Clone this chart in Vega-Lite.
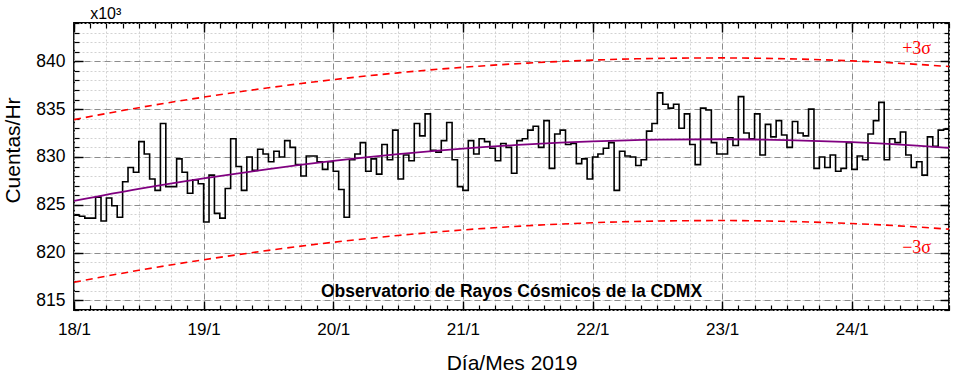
{
  "$schema": "https://vega.github.io/schema/vega-lite/v6.json",
  "autosize": "none",
  "width": 875,
  "height": 287,
  "padding": {"left": 74, "top": 23, "right": 9, "bottom": 69},
  "background": "white",
  "config": {
    "font": "Liberation Sans",
    "view": {"stroke": "black", "strokeWidth": 1.8},
    "axis": {"labelColor": "black", "titleColor": "black", "titleFontWeight": "normal", "labelFont": "Liberation Sans", "titleFont": "Liberation Sans"}
  },
  "datasets": {
    "cuentas": [
      {"fecha": "2019-01-18T00:00Z", "cuentas": 823.9}, {"fecha": "2019-01-18T01:00Z", "cuentas": 823.8}, {"fecha": "2019-01-18T02:00Z", "cuentas": 823.6}, {"fecha": "2019-01-18T03:00Z", "cuentas": 823.6},
      {"fecha": "2019-01-18T04:00Z", "cuentas": 825.8}, {"fecha": "2019-01-18T05:00Z", "cuentas": 823.3}, {"fecha": "2019-01-18T06:00Z", "cuentas": 825.7}, {"fecha": "2019-01-18T07:00Z", "cuentas": 824.9},
      {"fecha": "2019-01-18T08:00Z", "cuentas": 823.7}, {"fecha": "2019-01-18T09:00Z", "cuentas": 827.4}, {"fecha": "2019-01-18T10:00Z", "cuentas": 828.9}, {"fecha": "2019-01-18T11:00Z", "cuentas": 828.4},
      {"fecha": "2019-01-18T12:00Z", "cuentas": 831.6}, {"fecha": "2019-01-18T13:00Z", "cuentas": 830.3}, {"fecha": "2019-01-18T14:00Z", "cuentas": 827.7}, {"fecha": "2019-01-18T15:00Z", "cuentas": 826.5},
      {"fecha": "2019-01-18T16:00Z", "cuentas": 833.5}, {"fecha": "2019-01-18T17:00Z", "cuentas": 826.9}, {"fecha": "2019-01-18T18:00Z", "cuentas": 826.9}, {"fecha": "2019-01-18T19:00Z", "cuentas": 829.8},
      {"fecha": "2019-01-18T20:00Z", "cuentas": 828.4}, {"fecha": "2019-01-18T21:00Z", "cuentas": 826.2}, {"fecha": "2019-01-18T22:00Z", "cuentas": 827.6}, {"fecha": "2019-01-18T23:00Z", "cuentas": 827.2},
      {"fecha": "2019-01-19T00:00Z", "cuentas": 823.2}, {"fecha": "2019-01-19T01:00Z", "cuentas": 828.1}, {"fecha": "2019-01-19T02:00Z", "cuentas": 824.1}, {"fecha": "2019-01-19T03:00Z", "cuentas": 823.6},
      {"fecha": "2019-01-19T04:00Z", "cuentas": 826.7}, {"fecha": "2019-01-19T05:00Z", "cuentas": 831.9}, {"fecha": "2019-01-19T06:00Z", "cuentas": 829.0}, {"fecha": "2019-01-19T07:00Z", "cuentas": 826.5},
      {"fecha": "2019-01-19T08:00Z", "cuentas": 830.0}, {"fecha": "2019-01-19T09:00Z", "cuentas": 828.6}, {"fecha": "2019-01-19T10:00Z", "cuentas": 830.8}, {"fecha": "2019-01-19T11:00Z", "cuentas": 830.3},
      {"fecha": "2019-01-19T12:00Z", "cuentas": 829.5}, {"fecha": "2019-01-19T13:00Z", "cuentas": 830.6}, {"fecha": "2019-01-19T14:00Z", "cuentas": 830.0}, {"fecha": "2019-01-19T15:00Z", "cuentas": 831.7},
      {"fecha": "2019-01-19T16:00Z", "cuentas": 831.0}, {"fecha": "2019-01-19T17:00Z", "cuentas": 829.2}, {"fecha": "2019-01-19T18:00Z", "cuentas": 828.0}, {"fecha": "2019-01-19T19:00Z", "cuentas": 830.1},
      {"fecha": "2019-01-19T20:00Z", "cuentas": 830.1}, {"fecha": "2019-01-19T21:00Z", "cuentas": 829.5}, {"fecha": "2019-01-19T22:00Z", "cuentas": 828.7}, {"fecha": "2019-01-19T23:00Z", "cuentas": 829.5},
      {"fecha": "2019-01-20T00:00Z", "cuentas": 828.5}, {"fecha": "2019-01-20T01:00Z", "cuentas": 826.6}, {"fecha": "2019-01-20T02:00Z", "cuentas": 823.7}, {"fecha": "2019-01-20T03:00Z", "cuentas": 829.7},
      {"fecha": "2019-01-20T04:00Z", "cuentas": 830.3}, {"fecha": "2019-01-20T05:00Z", "cuentas": 831.5}, {"fecha": "2019-01-20T06:00Z", "cuentas": 828.5}, {"fecha": "2019-01-20T07:00Z", "cuentas": 829.8},
      {"fecha": "2019-01-20T08:00Z", "cuentas": 828.2}, {"fecha": "2019-01-20T09:00Z", "cuentas": 831.3}, {"fecha": "2019-01-20T10:00Z", "cuentas": 829.7}, {"fecha": "2019-01-20T11:00Z", "cuentas": 832.8},
      {"fecha": "2019-01-20T12:00Z", "cuentas": 827.7}, {"fecha": "2019-01-20T13:00Z", "cuentas": 830.2}, {"fecha": "2019-01-20T14:00Z", "cuentas": 829.6}, {"fecha": "2019-01-20T15:00Z", "cuentas": 833.5},
      {"fecha": "2019-01-20T16:00Z", "cuentas": 832.2}, {"fecha": "2019-01-20T17:00Z", "cuentas": 834.5}, {"fecha": "2019-01-20T18:00Z", "cuentas": 830.7}, {"fecha": "2019-01-20T19:00Z", "cuentas": 830.5},
      {"fecha": "2019-01-20T20:00Z", "cuentas": 831.7}, {"fecha": "2019-01-20T21:00Z", "cuentas": 833.6}, {"fecha": "2019-01-20T22:00Z", "cuentas": 829.7}, {"fecha": "2019-01-20T23:00Z", "cuentas": 826.9},
      {"fecha": "2019-01-21T00:00Z", "cuentas": 826.5}, {"fecha": "2019-01-21T01:00Z", "cuentas": 831.7}, {"fecha": "2019-01-21T02:00Z", "cuentas": 830.3}, {"fecha": "2019-01-21T03:00Z", "cuentas": 831.9},
      {"fecha": "2019-01-21T04:00Z", "cuentas": 831.6}, {"fecha": "2019-01-21T05:00Z", "cuentas": 830.9}, {"fecha": "2019-01-21T06:00Z", "cuentas": 829.6}, {"fecha": "2019-01-21T07:00Z", "cuentas": 831.4},
      {"fecha": "2019-01-21T08:00Z", "cuentas": 831.0}, {"fecha": "2019-01-21T09:00Z", "cuentas": 828.3}, {"fecha": "2019-01-21T10:00Z", "cuentas": 831.7}, {"fecha": "2019-01-21T11:00Z", "cuentas": 831.9},
      {"fecha": "2019-01-21T12:00Z", "cuentas": 832.8}, {"fecha": "2019-01-21T13:00Z", "cuentas": 833.2}, {"fecha": "2019-01-21T14:00Z", "cuentas": 831.0}, {"fecha": "2019-01-21T15:00Z", "cuentas": 833.8},
      {"fecha": "2019-01-21T16:00Z", "cuentas": 828.8}, {"fecha": "2019-01-21T17:00Z", "cuentas": 832.4}, {"fecha": "2019-01-21T18:00Z", "cuentas": 832.8}, {"fecha": "2019-01-21T19:00Z", "cuentas": 831.3},
      {"fecha": "2019-01-21T20:00Z", "cuentas": 831.4}, {"fecha": "2019-01-21T21:00Z", "cuentas": 829.3}, {"fecha": "2019-01-21T22:00Z", "cuentas": 829.8}, {"fecha": "2019-01-21T23:00Z", "cuentas": 827.7},
      {"fecha": "2019-01-22T00:00Z", "cuentas": 830.0}, {"fecha": "2019-01-22T01:00Z", "cuentas": 830.3}, {"fecha": "2019-01-22T02:00Z", "cuentas": 830.9}, {"fecha": "2019-01-22T03:00Z", "cuentas": 831.5},
      {"fecha": "2019-01-22T04:00Z", "cuentas": 826.5}, {"fecha": "2019-01-22T05:00Z", "cuentas": 830.6}, {"fecha": "2019-01-22T06:00Z", "cuentas": 830.1}, {"fecha": "2019-01-22T07:00Z", "cuentas": 830.0},
      {"fecha": "2019-01-22T08:00Z", "cuentas": 829.1}, {"fecha": "2019-01-22T09:00Z", "cuentas": 829.7}, {"fecha": "2019-01-22T10:00Z", "cuentas": 832.7}, {"fecha": "2019-01-22T11:00Z", "cuentas": 833.5},
      {"fecha": "2019-01-22T12:00Z", "cuentas": 836.7}, {"fecha": "2019-01-22T13:00Z", "cuentas": 835.5}, {"fecha": "2019-01-22T14:00Z", "cuentas": 835.1}, {"fecha": "2019-01-22T15:00Z", "cuentas": 835.5},
      {"fecha": "2019-01-22T16:00Z", "cuentas": 833.0}, {"fecha": "2019-01-22T17:00Z", "cuentas": 834.5}, {"fecha": "2019-01-22T18:00Z", "cuentas": 831.3}, {"fecha": "2019-01-22T19:00Z", "cuentas": 829.2},
      {"fecha": "2019-01-22T20:00Z", "cuentas": 835.1}, {"fecha": "2019-01-22T21:00Z", "cuentas": 834.9}, {"fecha": "2019-01-22T22:00Z", "cuentas": 831.5}, {"fecha": "2019-01-22T23:00Z", "cuentas": 830.3},
      {"fecha": "2019-01-23T00:00Z", "cuentas": 830.3}, {"fecha": "2019-01-23T01:00Z", "cuentas": 832.0}, {"fecha": "2019-01-23T02:00Z", "cuentas": 831.2}, {"fecha": "2019-01-23T03:00Z", "cuentas": 836.3},
      {"fecha": "2019-01-23T04:00Z", "cuentas": 832.5}, {"fecha": "2019-01-23T05:00Z", "cuentas": 831.9}, {"fecha": "2019-01-23T06:00Z", "cuentas": 834.5}, {"fecha": "2019-01-23T07:00Z", "cuentas": 830.2},
      {"fecha": "2019-01-23T08:00Z", "cuentas": 833.4}, {"fecha": "2019-01-23T09:00Z", "cuentas": 832.1}, {"fecha": "2019-01-23T10:00Z", "cuentas": 833.8}, {"fecha": "2019-01-23T11:00Z", "cuentas": 832.3},
      {"fecha": "2019-01-23T12:00Z", "cuentas": 831.0}, {"fecha": "2019-01-23T13:00Z", "cuentas": 833.7}, {"fecha": "2019-01-23T14:00Z", "cuentas": 832.5}, {"fecha": "2019-01-23T15:00Z", "cuentas": 832.2},
      {"fecha": "2019-01-23T16:00Z", "cuentas": 835.0}, {"fecha": "2019-01-23T17:00Z", "cuentas": 828.8}, {"fecha": "2019-01-23T18:00Z", "cuentas": 830.0}, {"fecha": "2019-01-23T19:00Z", "cuentas": 828.9},
      {"fecha": "2019-01-23T20:00Z", "cuentas": 830.2}, {"fecha": "2019-01-23T21:00Z", "cuentas": 828.5}, {"fecha": "2019-01-23T22:00Z", "cuentas": 828.8}, {"fecha": "2019-01-23T23:00Z", "cuentas": 831.5},
      {"fecha": "2019-01-24T00:00Z", "cuentas": 828.7}, {"fecha": "2019-01-24T01:00Z", "cuentas": 830.1}, {"fecha": "2019-01-24T02:00Z", "cuentas": 829.7}, {"fecha": "2019-01-24T03:00Z", "cuentas": 832.4},
      {"fecha": "2019-01-24T04:00Z", "cuentas": 833.8}, {"fecha": "2019-01-24T05:00Z", "cuentas": 835.7}, {"fecha": "2019-01-24T06:00Z", "cuentas": 829.7}, {"fecha": "2019-01-24T07:00Z", "cuentas": 831.9},
      {"fecha": "2019-01-24T08:00Z", "cuentas": 831.5}, {"fecha": "2019-01-24T09:00Z", "cuentas": 832.6}, {"fecha": "2019-01-24T10:00Z", "cuentas": 830.2}, {"fecha": "2019-01-24T11:00Z", "cuentas": 828.9},
      {"fecha": "2019-01-24T12:00Z", "cuentas": 829.5}, {"fecha": "2019-01-24T13:00Z", "cuentas": 828.1}, {"fecha": "2019-01-24T14:00Z", "cuentas": 832.1}, {"fecha": "2019-01-24T15:00Z", "cuentas": 831.1},
      {"fecha": "2019-01-24T16:00Z", "cuentas": 832.8}, {"fecha": "2019-01-24T17:00Z", "cuentas": 832.9}, {"fecha": "2019-01-24T18:00Z", "cuentas": 832.9}
    ],
    "ajuste": [
      {"fecha": "2019-01-18T00:00Z", "ajuste": 825.4, "mas3s": 833.9, "menos3s": 816.9},
      {"fecha": "2019-01-18T12:00Z", "ajuste": 826.65, "mas3s": 835.15, "menos3s": 818.15},
      {"fecha": "2019-01-19T00:00Z", "ajuste": 827.75, "mas3s": 836.25, "menos3s": 819.25},
      {"fecha": "2019-01-19T12:00Z", "ajuste": 828.73, "mas3s": 837.23, "menos3s": 820.23},
      {"fecha": "2019-01-20T00:00Z", "ajuste": 829.58, "mas3s": 838.08, "menos3s": 821.08},
      {"fecha": "2019-01-20T12:00Z", "ajuste": 830.29, "mas3s": 838.79, "menos3s": 821.79},
      {"fecha": "2019-01-21T00:00Z", "ajuste": 830.87, "mas3s": 839.37, "menos3s": 822.37},
      {"fecha": "2019-01-21T12:00Z", "ajuste": 831.31, "mas3s": 839.81, "menos3s": 822.81},
      {"fecha": "2019-01-22T00:00Z", "ajuste": 831.62, "mas3s": 840.12, "menos3s": 823.12},
      {"fecha": "2019-01-22T12:00Z", "ajuste": 831.8, "mas3s": 840.3, "menos3s": 823.3},
      {"fecha": "2019-01-23T00:00Z", "ajuste": 831.85, "mas3s": 840.35, "menos3s": 823.35},
      {"fecha": "2019-01-23T12:00Z", "ajuste": 831.76, "mas3s": 840.26, "menos3s": 823.26},
      {"fecha": "2019-01-24T00:00Z", "ajuste": 831.54, "mas3s": 840.04, "menos3s": 823.04},
      {"fecha": "2019-01-24T12:00Z", "ajuste": 831.18, "mas3s": 839.68, "menos3s": 822.68},
      {"fecha": "2019-01-24T18:00Z", "ajuste": 830.95, "mas3s": 839.45, "menos3s": 822.45}
    ],
    "etiquetas": [
      {"fecha": "2019-01-24T12:00Z", "valor": 841.3, "texto": "+3σ"},
      {"fecha": "2019-01-24T12:00Z", "valor": 820.45, "texto": "−3σ"}
    ],
    "rotulo": [
      {"fecha": "2019-01-21T09:00Z", "valor": 815.85, "texto": "Observatorio de Rayos Cósmicos de la CDMX"}
    ],
    "escala": [
      {"fecha": "2019-01-18T03:00Z", "valor": 844.4, "texto": "x10³"}
    ]
  },
  "resolve": {"axis": {"x": "independent", "y": "independent"}},
  "layer": [
    {
      "data": {"name": "cuentas"},
      "mark": {"type": "line", "interpolate": "step-after", "color": "black", "strokeWidth": 1.6},
      "encoding": {
        "x": {"field": "fecha", "type": "temporal",
          "scale": {"type": "utc", "nice": false, "domain": [{"year": 2019, "month": 1, "date": 18, "utc": true}, {"year": 2019, "month": 1, "date": 24, "hours": 18, "utc": true}]},
          "axis": {"orient": "bottom", "grid": true, "gridColor": "#d2d2d2", "gridDash": [2, 2], "gridWidth": 1, "ticks": false, "labels": false, "domain": false, "title": null,
            "values": [1547769600000, 1547791200000, 1547812800000, 1547834400000, 1547856000000, 1547877600000, 1547899200000, 1547920800000, 1547942400000, 1547964000000, 1547985600000, 1548007200000, 1548028800000, 1548050400000, 1548072000000, 1548093600000, 1548115200000, 1548136800000, 1548158400000, 1548180000000, 1548201600000, 1548223200000, 1548244800000, 1548266400000, 1548288000000, 1548309600000, 1548331200000, 1548352800000]}},
        "y": {"field": "cuentas", "type": "quantitative",
          "scale": {"domain": [814, 844], "nice": false, "zero": false},
          "axis": {"orient": "left", "grid": true, "gridColor": "#d2d2d2", "gridDash": [2, 2], "gridWidth": 1, "ticks": false, "labels": false, "domain": false, "title": null,
            "values": [814, 815, 816, 817, 818, 819, 820, 821, 822, 823, 824, 825, 826, 827, 828, 829, 830, 831, 832, 833, 834, 835, 836, 837, 838, 839, 840, 841, 842, 843, 844]}}
      }
    },
    {
      "data": {"name": "ajuste"},
      "mark": {"type": "line", "interpolate": "monotone", "color": "#800080", "strokeWidth": 1.8},
      "encoding": {
        "x": {"field": "fecha", "type": "temporal",
          "scale": {"type": "utc", "nice": false, "domain": [{"year": 2019, "month": 1, "date": 18, "utc": true}, {"year": 2019, "month": 1, "date": 24, "hours": 18, "utc": true}]},
          "axis": {"orient": "bottom", "grid": true, "gridColor": "#8c8c8c", "gridDash": [6, 4], "gridWidth": 1, "ticks": false, "domain": false,
            "values": [1547769600000, 1547856000000, 1547942400000, 1548028800000, 1548115200000, 1548201600000, 1548288000000],
            "labelExpr": "utcFormat(datum.value, '%-d/%-m')", "labelFontSize": 17, "labelPadding": 11, "labelFlush": false, "labelOverlap": false,
            "title": "Día/Mes 2019", "titleFontSize": 21, "titlePadding": 15}},
        "y": {"field": "ajuste", "type": "quantitative",
          "scale": {"domain": [814, 844], "nice": false, "zero": false},
          "axis": {"orient": "left", "grid": true, "gridColor": "#8c8c8c", "gridDash": [6, 4], "gridWidth": 1, "ticks": false, "domain": false,
            "values": [815, 820, 825, 830, 835, 840], "labelFontSize": 17.5, "labelPadding": 9, "title": "Cuentas/Hr", "titleFontSize": 21, "titlePadding": 12, "titleY": 127}}
      }
    },
    {
      "data": {"name": "ajuste"},
      "mark": {"type": "line", "interpolate": "monotone", "color": "#ff0000", "strokeWidth": 1.6, "strokeDash": [7, 5]},
      "encoding": {
        "x": {"field": "fecha", "type": "temporal",
          "scale": {"type": "utc", "nice": false, "domain": [{"year": 2019, "month": 1, "date": 18, "utc": true}, {"year": 2019, "month": 1, "date": 24, "hours": 18, "utc": true}]},
          "axis": {"orient": "bottom", "grid": false, "labels": false, "domain": false, "title": null, "ticks": true, "tickSize": -5, "tickColor": "black", "tickWidth": 1.2,
            "values": [1547769600000, 1547780400000, 1547791200000, 1547802000000, 1547812800000, 1547823600000, 1547834400000, 1547845200000, 1547856000000, 1547866800000, 1547877600000, 1547888400000, 1547899200000, 1547910000000, 1547920800000, 1547931600000, 1547942400000, 1547953200000, 1547964000000, 1547974800000, 1547985600000, 1547996400000, 1548007200000, 1548018000000, 1548028800000, 1548039600000, 1548050400000, 1548061200000, 1548072000000, 1548082800000, 1548093600000, 1548104400000, 1548115200000, 1548126000000, 1548136800000, 1548147600000, 1548158400000, 1548169200000, 1548180000000, 1548190800000, 1548201600000, 1548212400000, 1548223200000, 1548234000000, 1548244800000, 1548255600000, 1548266400000, 1548277200000, 1548288000000, 1548298800000, 1548309600000, 1548320400000, 1548331200000, 1548342000000, 1548352800000]}},
        "y": {"field": "mas3s", "type": "quantitative",
          "scale": {"domain": [814, 844], "nice": false, "zero": false},
          "axis": {"orient": "left", "grid": false, "labels": false, "domain": false, "title": null, "ticks": true, "tickSize": -5, "tickColor": "black", "tickWidth": 1.2,
            "values": [814, 815, 816, 817, 818, 819, 820, 821, 822, 823, 824, 825, 826, 827, 828, 829, 830, 831, 832, 833, 834, 835, 836, 837, 838, 839, 840, 841, 842, 843, 844]}}
      }
    },
    {
      "data": {"name": "ajuste"},
      "mark": {"type": "line", "interpolate": "monotone", "color": "#ff0000", "strokeWidth": 1.6, "strokeDash": [7, 5]},
      "encoding": {
        "x": {"field": "fecha", "type": "temporal",
          "scale": {"type": "utc", "nice": false, "domain": [{"year": 2019, "month": 1, "date": 18, "utc": true}, {"year": 2019, "month": 1, "date": 24, "hours": 18, "utc": true}]},
          "axis": {"orient": "bottom", "grid": false, "labels": false, "domain": false, "title": null, "ticks": true, "tickSize": -9, "tickColor": "black", "tickWidth": 1.4,
            "values": [1547769600000, 1547856000000, 1547942400000, 1548028800000, 1548115200000, 1548201600000, 1548288000000]}},
        "y": {"field": "menos3s", "type": "quantitative",
          "scale": {"domain": [814, 844], "nice": false, "zero": false},
          "axis": {"orient": "left", "grid": false, "labels": false, "domain": false, "title": null, "ticks": true, "tickSize": -9, "tickColor": "black", "tickWidth": 1.4,
            "values": [815, 820, 825, 830, 835, 840]}}
      }
    },
    {
      "data": {"name": "etiquetas"},
      "mark": {"type": "text", "color": "#ff0000", "font": "Liberation Serif", "fontSize": 18, "align": "center", "baseline": "middle"},
      "encoding": {
        "x": {"field": "fecha", "type": "temporal",
          "scale": {"type": "utc", "nice": false, "domain": [{"year": 2019, "month": 1, "date": 18, "utc": true}, {"year": 2019, "month": 1, "date": 24, "hours": 18, "utc": true}]},
          "axis": {"orient": "top", "grid": false, "labels": false, "domain": false, "title": null, "ticks": true, "tickSize": -5, "tickColor": "black", "tickWidth": 1.2,
            "values": [1547769600000, 1547780400000, 1547791200000, 1547802000000, 1547812800000, 1547823600000, 1547834400000, 1547845200000, 1547856000000, 1547866800000, 1547877600000, 1547888400000, 1547899200000, 1547910000000, 1547920800000, 1547931600000, 1547942400000, 1547953200000, 1547964000000, 1547974800000, 1547985600000, 1547996400000, 1548007200000, 1548018000000, 1548028800000, 1548039600000, 1548050400000, 1548061200000, 1548072000000, 1548082800000, 1548093600000, 1548104400000, 1548115200000, 1548126000000, 1548136800000, 1548147600000, 1548158400000, 1548169200000, 1548180000000, 1548190800000, 1548201600000, 1548212400000, 1548223200000, 1548234000000, 1548244800000, 1548255600000, 1548266400000, 1548277200000, 1548288000000, 1548298800000, 1548309600000, 1548320400000, 1548331200000, 1548342000000, 1548352800000]}},
        "y": {"field": "valor", "type": "quantitative",
          "scale": {"domain": [814, 844], "nice": false, "zero": false},
          "axis": {"orient": "right", "grid": false, "labels": false, "domain": false, "title": null, "ticks": true, "tickSize": -5, "tickColor": "black", "tickWidth": 1.2,
            "values": [814, 815, 816, 817, 818, 819, 820, 821, 822, 823, 824, 825, 826, 827, 828, 829, 830, 831, 832, 833, 834, 835, 836, 837, 838, 839, 840, 841, 842, 843, 844]}},
        "text": {"field": "texto"}
      }
    },
    {
      "data": {"name": "rotulo"},
      "mark": {"type": "text", "color": "black", "font": "Liberation Sans", "fontWeight": "bold", "fontSize": 17.5, "align": "center", "baseline": "middle"},
      "encoding": {
        "x": {"field": "fecha", "type": "temporal",
          "scale": {"type": "utc", "nice": false, "domain": [{"year": 2019, "month": 1, "date": 18, "utc": true}, {"year": 2019, "month": 1, "date": 24, "hours": 18, "utc": true}]},
          "axis": {"orient": "top", "grid": false, "labels": false, "domain": false, "title": null, "ticks": true, "tickSize": -9, "tickColor": "black", "tickWidth": 1.4,
            "values": [1547769600000, 1547856000000, 1547942400000, 1548028800000, 1548115200000, 1548201600000, 1548288000000]}},
        "y": {"field": "valor", "type": "quantitative",
          "scale": {"domain": [814, 844], "nice": false, "zero": false},
          "axis": {"orient": "right", "grid": false, "labels": false, "domain": false, "title": null, "ticks": true, "tickSize": -9, "tickColor": "black", "tickWidth": 1.4,
            "values": [815, 820, 825, 830, 835, 840]}},
        "text": {"field": "texto"}
      }
    },
    {
      "data": {"name": "escala"},
      "mark": {"type": "text", "color": "black", "font": "Liberation Sans", "fontSize": 16, "align": "left", "baseline": "alphabetic", "clip": false},
      "encoding": {
        "x": {"field": "fecha", "type": "temporal",
          "scale": {"type": "utc", "nice": false, "domain": [{"year": 2019, "month": 1, "date": 18, "utc": true}, {"year": 2019, "month": 1, "date": 24, "hours": 18, "utc": true}]},
          "axis": null},
        "y": {"field": "valor", "type": "quantitative",
          "scale": {"domain": [814, 844], "nice": false, "zero": false},
          "axis": null},
        "text": {"field": "texto"}
      }
    }
  ]
}
